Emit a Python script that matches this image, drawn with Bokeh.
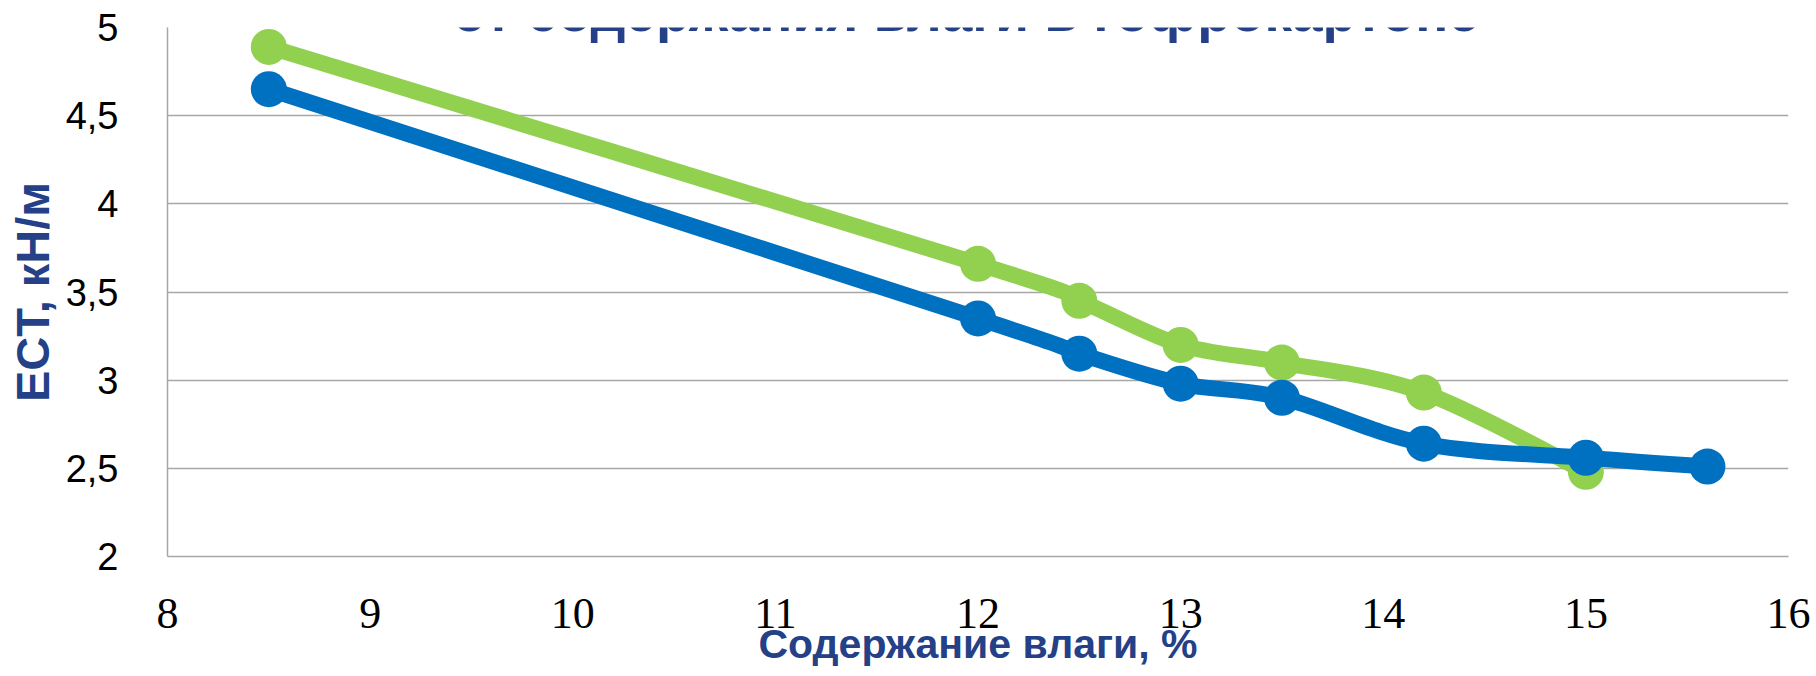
from bokeh.plotting import figure
from bokeh.models import FixedTicker, Label
from bokeh.embed import file_html
from bokeh.resources import INLINE

# Data
moisture_green = [8.5, 12, 12.5, 13, 13.5, 14.2, 15]
ect_green = [4.89, 3.66, 3.45, 3.20, 3.10, 2.93, 2.48]
moisture_blue = [8.5, 12, 12.5, 13, 13.5, 14.2, 15, 15.6]
ect_blue = [4.65, 3.35, 3.15, 2.98, 2.90, 2.64, 2.56, 2.51]

x_ticks = [8, 9, 10, 11, 12, 13, 14, 15, 16]
y_ticks = [2, 2.5, 3, 3.5, 4, 4.5, 5]
y_tick_labels = ["2", "2,5", "3", "3,5", "4", "4,5", "5"]

title_text = "от содержания влаги в гофрокартоне"
x_title = "Содержание влаги, %"
y_title = "ECT, кН/м"

GREEN = "#92D050"
BLUE = "#0070C0"
NAVY = "#244086"
GRID = "#A6A6A6"


def smooth_segments(xs, ys):
    """Bezier control points for a smoothed line through the points (Excel-like)."""
    n = len(xs)
    seg = dict(x0=[], y0=[], x1=[], y1=[], cx0=[], cy0=[], cx1=[], cy1=[])
    for i in range(n - 1):
        a = i - 1 if i > 0 else i
        d = i + 2 if i + 2 < n else i + 1
        seg["x0"].append(xs[i]); seg["y0"].append(ys[i])
        seg["x1"].append(xs[i + 1]); seg["y1"].append(ys[i + 1])
        seg["cx0"].append(xs[i] + (xs[i + 1] - xs[a]) / 6)
        seg["cy0"].append(ys[i] + (ys[i + 1] - ys[a]) / 6)
        seg["cx1"].append(xs[i + 1] - (xs[d] - xs[i]) / 6)
        seg["cy1"].append(ys[i + 1] - (ys[d] - ys[i]) / 6)
    return seg


p = figure(width=1816, height=676, x_range=(8, 16), y_range=(2, 5),
           output_backend="svg", toolbar_location=None,
           min_border_left=167, min_border_right=28,
           min_border_top=27, min_border_bottom=120)
p.outline_line_color = None
p.background_fill_color = "white"
p.border_fill_color = "white"

# grid
p.xgrid.grid_line_color = None
p.ygrid.grid_line_color = GRID
p.ygrid.grid_line_width = 1.5
p.ygrid.ticker = FixedTicker(ticks=y_ticks)

# x axis
p.xaxis.ticker = FixedTicker(ticks=x_ticks)
p.xaxis.axis_line_color = GRID
p.xaxis.axis_line_width = 1.5
p.xaxis.major_tick_line_color = None
p.xaxis.minor_tick_line_color = None
p.xaxis.major_label_text_font = "Liberation Sans Narrow"
p.xaxis.major_label_text_font_size = "44px"
p.xaxis.major_label_text_color = "black"
p.xaxis.major_label_standoff = 36
p.xaxis.axis_label = x_title
p.xaxis.axis_label_text_font = "Liberation Sans"
p.xaxis.axis_label_text_font_style = "bold"
p.xaxis.axis_label_text_font_size = "41px"
p.xaxis.axis_label_text_color = NAVY
p.xaxis.axis_label_standoff = -10

# y axis
p.yaxis.ticker = FixedTicker(ticks=y_ticks)
p.yaxis.major_label_overrides = {t: s for t, s in zip(y_ticks, y_tick_labels)}
p.yaxis.axis_line_color = GRID
p.yaxis.axis_line_width = 1.5
p.yaxis.major_tick_line_color = None
p.yaxis.minor_tick_line_color = None
p.yaxis.major_label_text_font = "Liberation Sans"
p.yaxis.major_label_text_font_size = "38px"
p.yaxis.major_label_text_color = "black"
p.yaxis.major_label_standoff = 43
p.yaxis.axis_label = y_title
p.yaxis.axis_label_text_font = "Liberation Sans"
p.yaxis.axis_label_text_font_style = "bold"
p.yaxis.axis_label_text_font_size = "47px"
p.yaxis.axis_label_text_color = NAVY
p.yaxis.axis_label_standoff = 4

# series
g = smooth_segments(moisture_green, ect_green)
p.bezier(x0=g["x0"], y0=g["y0"], x1=g["x1"], y1=g["y1"],
         cx0=g["cx0"], cy0=g["cy0"], cx1=g["cx1"], cy1=g["cy1"],
         line_color=GREEN, line_width=16, line_cap="round")
p.scatter(moisture_green, ect_green, size=36, fill_color=GREEN, line_color=None)
b = smooth_segments(moisture_blue, ect_blue)
p.bezier(x0=b["x0"], y0=b["y0"], x1=b["x1"], y1=b["y1"],
         cx0=b["cx0"], cy0=b["cy0"], cx1=b["cx1"], cy1=b["cy1"],
         line_color=BLUE, line_width=16, line_cap="round")
p.scatter(moisture_blue, ect_blue, size=36, fill_color=BLUE, line_color=None)

# title (cut off at the top in the reference)
p.add_layout(Label(x=11.94, y=5.09, text=title_text, text_align="center",
                   text_baseline="alphabetic", text_font="Liberation Sans",
                   text_font_style="bold", text_font_size="55px", text_color=NAVY))

open("out.html", "w").write(file_html(p, INLINE))
